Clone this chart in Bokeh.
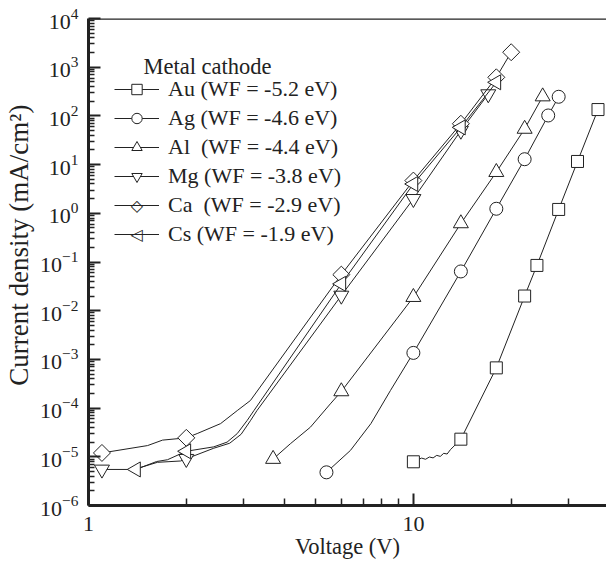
import math
from bokeh.plotting import figure
from bokeh.models import (Range1d, FixedTicker, CustomJSTickFormatter, Legend, LegendItem,
                          Span, Label)
from bokeh.embed import file_html
from bokeh.resources import INLINE

# ---------------- data ----------------
au_v = [10, 14, 18, 22, 24, 28, 32, 37]
au_j = [7.9e-6, 2.3e-5, 6.7e-4, 0.02, 0.085, 1.2, 11.6, 135]
au_line_v = [10, 10.3, 10.6, 10.9, 11.2, 11.5, 11.8, 12.1, 12.4, 12.7, 13.0, 14, 18, 22, 24, 28, 32, 37]
au_line_j = [7.9e-6, 8.7e-6, 9.4e-6, 8.9e-6, 9.9e-6, 9.5e-6, 1.07e-5, 1.02e-5, 1.18e-5, 1.14e-5, 1.4e-5,
             2.3e-5, 6.7e-4, 0.02, 0.085, 1.2, 11.6, 135]

ag_v = [5.4, 10, 14, 18, 22, 26, 28]
ag_j = [4.8e-6, 1.36e-3, 0.064, 1.24, 12.9, 102, 247]
ag_line_v = [5.4, 6.4, 7.4, 8.5, 10, 14, 18, 22, 26, 28]
ag_line_j = [4.8e-6, 1.35e-5, 4.8e-5, 2.3e-4, 1.36e-3, 0.064, 1.24, 12.9, 102, 247]

al_v = [3.7, 6, 10, 14, 18, 22, 25]
al_j = [9e-6, 2.2e-4, 0.019, 0.62, 7, 54, 250]
al_line_v = [3.7, 4.18, 4.82, 5.55, 6, 10, 14, 18, 22, 25]
al_line_j = [9e-6, 1.85e-5, 4.06e-5, 1.22e-4, 2.2e-4, 0.019, 0.62, 7, 54, 250]

mg_v = [1.1, 2, 6, 10, 14, 17]
mg_j = [5.5e-6, 9.1e-6, 0.0205, 1.98, 50, 280]
mg_line_v = [1.1, 1.38, 1.63, 1.92, 2, 2.43, 2.72, 2.95, 3.15, 3.3, 6, 10, 14, 17]
mg_line_j = [5.5e-6, 5.5e-6, 7.7e-6, 8.2e-6, 9.1e-6, 1.5e-5, 1.9e-5, 2.9e-5, 5.5e-5, 8.9e-5,
             0.0205, 1.98, 50, 280]

ca_v = [1.1, 2, 6, 10, 14, 18, 20]
ca_j = [1.2e-5, 2.45e-5, 0.055, 4.7, 69, 620, 2030]
ca_line_v = [1.1, 1.52, 1.69, 2, 2.16, 2.55, 2.87, 3.15, 6, 10, 14, 18, 20]
ca_line_j = [1.2e-5, 1.7e-5, 2.2e-5, 2.45e-5, 3.0e-5, 4.8e-5, 8.9e-5, 1.43e-4, 0.055, 4.7, 69, 620, 2030]

cs_v = [1.4, 2, 6, 10, 14, 18]
cs_j = [5.5e-6, 1.3e-5, 0.0356, 4.0, 58, 490]
cs_line_v = [1.4, 1.62, 1.75, 2, 2.43, 2.67, 2.87, 3.08, 3.23, 6, 10, 14, 18]
cs_line_j = [5.5e-6, 8e-6, 8.7e-6, 1.3e-5, 1.6e-5, 2e-5, 3e-5, 5.6e-5, 8.9e-5, 0.0356, 4.0, 58, 490]

labels = ["Au (WF = -5.2 eV)", "Ag (WF = -4.6 eV)", "Al  (WF = -4.4 eV)",
          "Mg (WF = -3.8 eV)", "Ca  (WF = -2.9 eV)", "Cs (WF = -1.9 eV)"]
legend_title = "Metal cathode"
x_title = "Voltage (V)"
y_title = "Current density (mA/cm²)"
x_major = [1, 10]
x_minor = [2, 3, 4, 5, 6, 7, 8, 9, 20, 30]
y_exponents = list(range(-6, 5))

FONT = "Liberation Serif"
INK = "#222222"

W, H = 606, 570
BL, BR, BT, BB = 88, 0, 18, 65
FRAME_W, FRAME_H = W - BL - BR, H - BT - BB
X0, X1 = 1, 39.3
Y0, Y1 = 1e-6, 1e4


def data_x(px_from_left):
    return 10 ** (math.log10(X0) + px_from_left / FRAME_W * (math.log10(X1) - math.log10(X0)))


def data_y(px_from_top):
    return 10 ** (math.log10(Y1) - px_from_top / FRAME_H * (math.log10(Y1) - math.log10(Y0)))


p = figure(width=W, height=H, x_axis_type="log", y_axis_type="log",
           x_range=Range1d(X0, X1), y_range=Range1d(Y0, Y1),
           output_backend="svg", toolbar_location=None,
           min_border_left=BL, min_border_right=BR, min_border_top=BT, min_border_bottom=BB)
p.outline_line_color = None
p.xgrid.visible = False
p.ygrid.visible = False
p.background_fill_color = "white"
p.border_fill_color = "white"

series = [
    (au_line_v, au_line_j, au_v, au_j, dict(marker="square", size=12, angle=0.0)),
    (ag_line_v, ag_line_j, ag_v, ag_j, dict(marker="circle", size=13, angle=0.0)),
    (al_line_v, al_line_j, al_v, al_j, dict(marker="triangle", size=15, angle=0.0)),
    (mg_line_v, mg_line_j, mg_v, mg_j, dict(marker="inverted_triangle", size=15, angle=0.0)),
    (ca_line_v, ca_line_j, ca_v, ca_j, dict(marker="square", size=12, angle=math.pi / 4)),
    (cs_line_v, cs_line_j, cs_v, cs_j, dict(marker="triangle", size=15, angle=math.pi / 2)),
]

items = []
for (lv, lj, mv, mj, mk), lab in zip(series, labels):
    lr = p.line(lv, lj, line_color=INK, line_width=1)
    sr = p.scatter(mv, mj, marker=mk["marker"], size=mk["size"], angle=mk["angle"],
                   fill_color="white", line_color=INK, line_width=1)
    # rotated markers are not rotated inside legends: those two get a text symbol instead
    items.append(LegendItem(label=lab, renderers=[lr, sr] if mk["angle"] == 0 else [lr]))

LEG_X, ROW_H, GLYPH_W = 26, 29, 45
LEG_TOP = 56                      # px below frame top
LEG_H = ROW_H * len(labels)
legend = Legend(items=items, location=(LEG_X, FRAME_H - LEG_TOP - LEG_H))
legend.padding = 0
legend.margin = 0
legend.spacing = 0
legend.label_height = ROW_H
legend.glyph_height = 26
legend.glyph_width = GLYPH_W
legend.label_standoff = 9
legend.border_line_color = None
legend.background_fill_alpha = 0
legend.label_text_font = FONT
legend.label_text_font_size = "22px"
legend.label_text_color = INK
p.add_layout(legend, "center")

# legend symbols for the rotated markers (diamond, left triangle)
for sym, row in (("◇", 4), ("◁", 5)):
    p.add_layout(Label(x=data_x(LEG_X + GLYPH_W / 2), y=data_y(LEG_TOP + row * ROW_H + ROW_H / 2),
                       text=sym, text_font="DejaVu Sans", text_font_size="16px", text_color=INK,
                       text_align="center", text_baseline="middle",
                       background_fill_color="white"))

p.add_layout(Label(x=data_x(55), y=data_y(47.7), text=legend_title, text_font=FONT,
                   text_font_size="22.5px", text_color=INK, text_baseline="alphabetic"))

# top frame line
p.add_layout(Span(location=Y1, dimension="width", line_color=INK, line_width=2.5))

# x axis
xa = p.xaxis[0]
xa.ticker = FixedTicker(ticks=x_major, minor_ticks=x_minor)
xa.formatter = CustomJSTickFormatter(code="return String(Math.round(tick));")
xa.axis_label = x_title
# y axis
ya = p.yaxis[0]
ya.ticker = FixedTicker(ticks=[10.0 ** e for e in y_exponents],
                        minor_ticks=[m * 10.0 ** e for e in y_exponents[:-1] for m in range(2, 10)])
# leading no-break spaces lift the centred title a little, as in the original
ya.axis_label = "\u00a0" * 5 + y_title

for ax in (xa, ya):
    ax.axis_line_width = 3
    ax.axis_line_color = INK
    ax.major_tick_in = 12
    ax.major_tick_out = 0
    ax.minor_tick_in = 6
    ax.minor_tick_out = 0
    ax.major_tick_line_width = 2
    ax.minor_tick_line_width = 1.5
    ax.major_tick_line_color = INK
    ax.minor_tick_line_color = INK
    ax.major_label_text_font = FONT
    ax.major_label_text_font_size = "22px"
    ax.major_label_text_color = INK
    ax.axis_label_text_font = FONT
    ax.axis_label_text_font_style = "normal"
    ax.axis_label_text_color = INK
xa.axis_label_text_font_size = "22.5px"
ya.axis_label_text_font_size = "27px"
xa.minor_tick_in = 7
xa.major_label_standoff = 11
xa.axis_label_standoff = 0
ya.major_label_standoff = 10
ya.axis_label_standoff = 3

open("out.html", "w").write(file_html(p, INLINE))
